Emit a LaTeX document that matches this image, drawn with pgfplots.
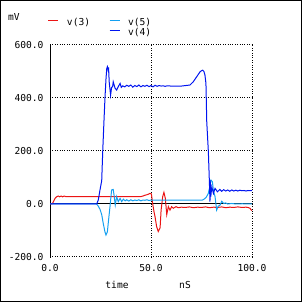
\documentclass[border=0pt]{standalone}
\usepackage{fontspec}
\setmainfont{DejaVu Sans Mono}
\usepackage{pgfplots}
\pgfplotsset{compat=1.18}
\definecolor{cred}{RGB}{235,20,20}
\definecolor{clight}{RGB}{20,160,240}
\definecolor{cdark}{RGB}{0,20,240}
\newcommand{\f}{\fontsize{9.6}{11}\selectfont}
\begin{document}
\begin{tikzpicture}[x=1pt,y=1pt]
\useasboundingbox (0,0) rectangle (302,302);
\draw[line width=1pt] (0.5,0.5) rectangle (301.5,301.5);
\begin{axis}[
  at={(50pt,45pt)}, anchor=south west,
  scale only axis, width=202pt, height=212pt,
  xmin=0, xmax=100, ymin=-200, ymax=600,
  axis line style={draw=none},
  xtick={0,50,100}, xticklabels={0.0,50.0,100.0},
  ytick={-200,0,200,400,600}, yticklabels={-200.0,0.0,200.0,400.0,600.0},
  major tick length=0pt,
  grid=major, major grid style={black, dotted, line width=1pt},
  ticklabel style={font=\f, inner sep=0pt},
  yticklabel style={anchor=east, xshift=-6pt},
  xticklabel style={anchor=center, yshift=-11pt},
  legend columns=2,
  legend style={draw=none, fill=none, at={(axis description cs:-0.0099,1.0377)}, anchor=south west,
    inner sep=0pt, outer sep=0pt, font=\f, row sep=1pt,
    nodes={inner sep=0pt, text height=7pt, text depth=2pt},
    /tikz/every odd column/.append style={column sep=8pt},
    /tikz/every even column/.append style={column sep=19pt}},
  legend image code/.code={\draw[#1, line width=1pt] (0pt,2.5pt) -- (10pt,2.5pt);},
  line width=1pt,
]
\draw[black, line width=1pt] (axis cs:0,-200) -- (axis cs:0,600);
\draw[black, line width=1pt] (axis cs:0,0) -- (axis cs:100,0);
\addplot[cred, line width=1pt] coordinates {
(0,0) (1.0,0) (1.8,10) (2.5,21) (3.2,27) (4.1,30) (4.8,27) (5.5,30) (6.2,27) (7.0,30) (7.8,28)
(9,28) (20,28) (30,28) (40,28) (45,28) (46,30) (47,33) (48,35) (49,38) (49.5,40) (50.2,38)
(50.8,3) (51.5,-30) (52.0,-48) (52.8,-86) (53.6,-104) (54.5,-90) (55.0,-23) (55.8,28) (56.4,44)
(57.1,21) (57.8,-40) (58.6,-10) (59.4,-23) (60.2,-10) (61.0,-16) (62.4,-10) (63.5,-14) (65,-12)
(67,-13) (69,-11) (71,-14) (73,-12) (75,-13) (77,-11) (79,-14) (81,-12) (83,-13) (85,-11)
(87,-14) (89,-12) (91,-13) (93,-11) (95,-13) (97,-12) (98,-13) (99.0,-16) (99.85,-25)
};
\addlegendentry{v(3)}
\addplot[clight, line width=1pt] coordinates {
(0,0) (23.1,0) (23.9,-8) (24.75,-20) (25.6,-40) (26.4,-75) (27.2,-105) (27.7,-117) (28.4,-105)
(29.0,-60) (29.7,-10) (30.2,30) (30.5,53) (31.3,55) (31.8,28) (32.3,-4) (33.0,28) (33.8,9)
(34.7,21) (35.5,9) (36.3,18) (37.2,12) (38,16) (39,11) (40,16) (41,12) (42,15) (43,13) (44,16)
(45,12) (46,15) (47,14) (48,16) (49,13) (50,15) (60,15) (70,15) (75.5,15) (76.2,18) (77.3,25)
(78.4,40) (79.2,70) (79.7,90) (80.4,84) (80.9,50) (81.7,28) (82.5,-23) (83.3,-8) (84.2,-4)
(85,10) (86,2) (87,4) (88,0) (90,2) (92,0) (95,1) (100,0)
};
\addlegendentry{v(5)}
\addlegendimage{white}
\addlegendentry{}
\addplot[cdark, line width=1pt] coordinates {
(0,0) (23.1,0) (23.9,15) (24.75,53) (25.6,88) (26.1,198) (26.7,310) (27.2,398) (27.7,470)
(28.1,511) (28.4,518) (28.8,505) (29.0,515) (29.3,461) (30.0,411) (30.5,440) (31.0,443)
(31.3,461) (32.2,437) (33.0,430) (33.8,443) (34.7,455) (35.3,440) (36,446) (37,442) (38,448)
(39,444) (40,449) (41,441) (42,447) (43,443) (44,449) (45,442) (46,447) (47,444) (48,448)
(49,443) (50,447) (51,442) (52,448) (53,444) (54,447) (55,445) (56,446) (57,444) (58,446)
(60,445) (65,445) (69.3,449) (70.9,461) (72.6,480) (74.3,499) (75.0,503) (75.6,505) (76.2,500)
(76.7,487) (77.2,455) (77.6,310) (78.4,197) (78.9,84) (79.2,9) (79.3,90) (79.6,28) (80.1,65)
(80.9,40) (81.7,59) (82.9,46) (84.1,55) (85,48) (86,54) (87,49) (88,53) (89,48) (90,53) (91,49)
(92,52) (93,49) (94,52) (95,50) (96,51) (97,49) (98,51) (100,50)
};
\addlegendentry{v(4)}
\end{axis}
\node[font=\f, inner sep=0pt] at (14,285) {mV};
\node[font=\f, inner sep=0pt] at (117,17) {time};
\node[font=\f, inner sep=0pt] at (185,17) {nS};
\end{tikzpicture}
\end{document}
